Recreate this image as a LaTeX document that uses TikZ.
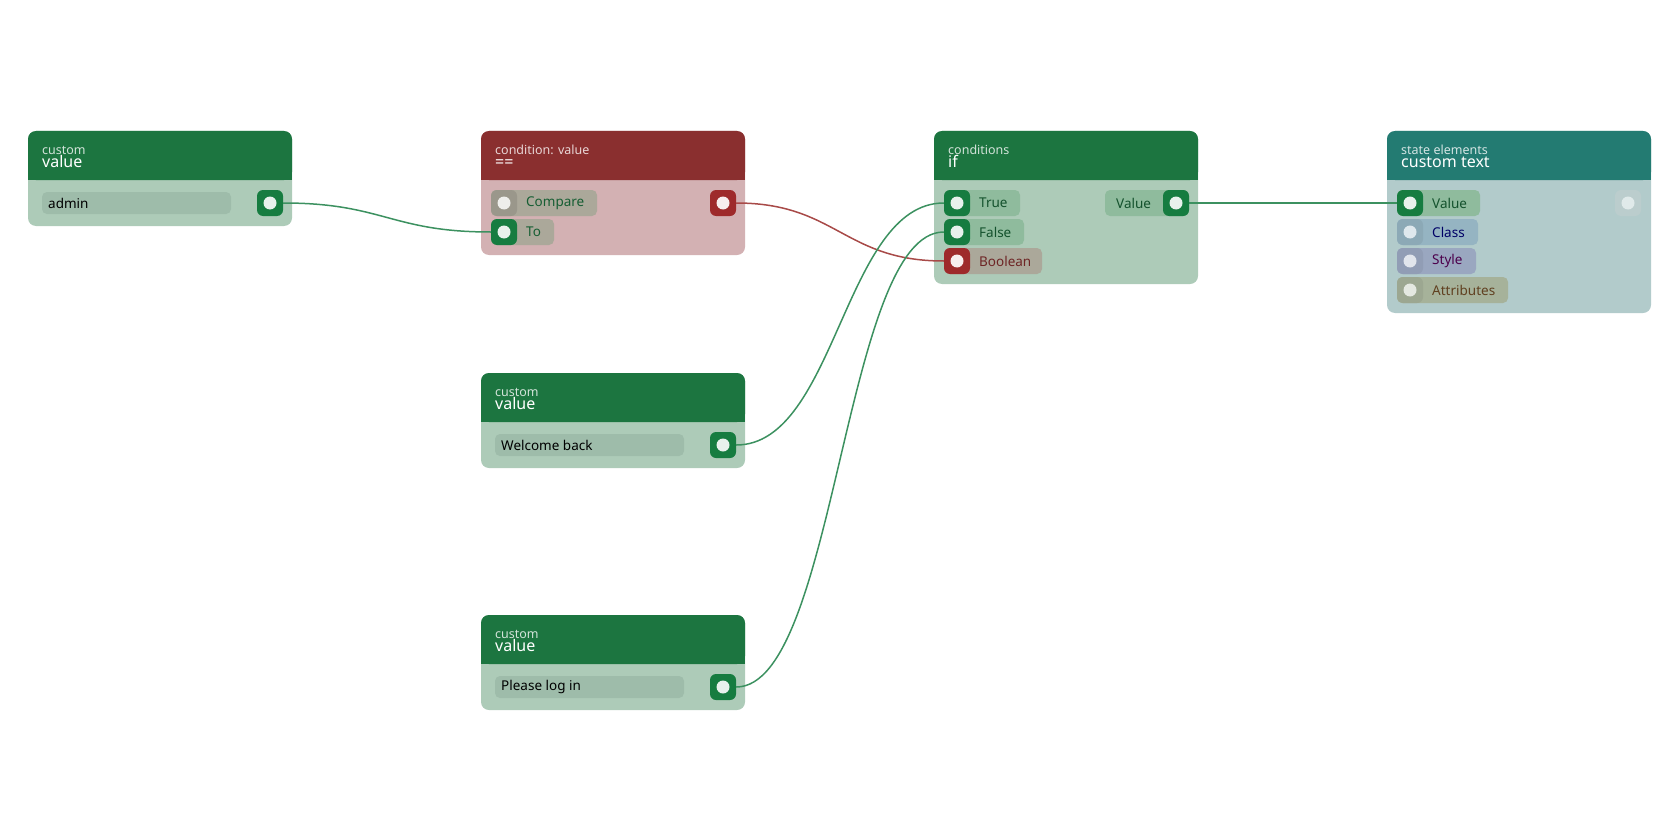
\documentclass[tikz,border=0pt]{standalone}
\usepackage{fontspec}
\setmainfont{Noto Sans}
\begin{document}
\begin{tikzpicture}[x=1pt,y=-1pt,
  hdrs/.style={font=\fontsize{12.5}{13}\selectfont,anchor=base west,inner sep=0pt},
  hdrt/.style={font=\fontsize{16}{17}\selectfont,anchor=base west,inner sep=0pt,text=white},
  lbl/.style={font=\fontsize{13.5}{15}\selectfont,anchor=west,inner sep=0pt},
  port/.style={draw=none,fill=#1,rounded corners=6pt,minimum width=26pt,minimum height=26pt,inner sep=0pt},
  dot/.style={circle,fill=#1,minimum size=13pt,inner sep=0pt},
  wire/.style={line width=1.5pt,draw=#1}]
\useasboundingbox (0,0) rectangle (1680,840);
\definecolor{gh}{HTML}{1C7540}\definecolor{gb}{HTML}{ADCBB8}\definecolor{gp}{HTML}{9EBCAA}
\definecolor{gport}{HTML}{167C40}\definecolor{gdot}{HTML}{E8F1EC}
\definecolor{rh}{HTML}{8A2F2F}\definecolor{rb}{HTML}{D3B1B3}\definecolor{rport}{HTML}{9E2A2B}
\definecolor{grp}{HTML}{ABA89A}\definecolor{gpl}{HTML}{8FBB9D}
\definecolor{th}{HTML}{237B72}\definecolor{tb}{HTML}{B2CBCB}
\definecolor{wg}{HTML}{3C9160}\definecolor{wr}{HTML}{A84A48}
% card macro: x0 y0 y1 headercolor bodycolor sub title
\newcommand\mycard[7]{%
  \fill[#5,rounded corners=8pt] (#1,#2) rectangle ({#1+264},#3);
  \fill[#4,rounded corners=8pt] (#1,#2) rectangle ({#1+264},{#2+49});
  \fill[#4] (#1,{#2+30}) rectangle ({#1+264},{#2+49});
  \node[hdrs,text=white!80!#4] at ({#1+14},{#2+23}) {#6};
  \node[hdrt] at ({#1+14},{#2+36}) {#7};}
% value card: name x0 y0 text
\newcommand\valcard[4]{%
  \mycard{#2}{#3}{#3+95}{gh}{gb}{custom}{value}
  \fill[gp,rounded corners=5pt] ({#2+14},{#3+61}) rectangle ({#2+203},{#3+83});
  \node[lbl] at ({#2+20},{#3+72}) {#4};
  \node[port=gport] (#1) at ({#2+242},{#3+72}) {};
  \node[dot=gdot] at (#1) {};}
\newcommand\inrow[7]{% name x y pillright pillcolor portcolor dotcolor ; label in #7? no
}
% --- node 1
\valcard{v1}{28}{131}{admin}
\valcard{v2}{481}{373}{Welcome back}
\valcard{v3}{481}{615}{Please log in}
% --- node 2
\mycard{481}{131}{255}{rh}{rb}{condition: value}{==}
\fill[grp,rounded corners=5pt] (491,190) rectangle (597,216);
\fill[black!10!grp,rounded corners=6pt] (491,190) rectangle (517,216);
\node[dot=white!80!grp] (cmp) at (504,203) {};
\node[lbl,text=gh!80!black] at (526,203) {Compare};
\fill[grp,rounded corners=5pt] (491,219) rectangle (554,245);
\node[port=gport] (to) at (504,232) {};\node[dot=gdot] at (to) {};
\node[lbl,text=gh!80!black] at (526,232) {To};
\node[port=rport] (eq) at (723,203) {};\node[dot=white!92!rport] at (eq) {};
% --- node if
\mycard{934}{131}{284}{gh}{gb}{conditions}{if}
\fill[gpl,rounded corners=5pt] (944,190) rectangle (1020,216);
\node[port=gport] (tr) at (957,203) {};\node[dot=gdot] at (tr) {};
\node[lbl,text=gh!70!black] at (979,203) {True};
\fill[gpl,rounded corners=5pt] (944,219) rectangle (1024,245);
\node[port=gport] (fa) at (957,232) {};\node[dot=gdot] at (fa) {};
\node[lbl,text=gh!70!black] at (979,232) {False};
\fill[grp,rounded corners=5pt] (944,248) rectangle (1042,274);
\node[port=rport] (bo) at (957,261) {};\node[dot=white!92!rport] at (bo) {};
\node[lbl,text=rh!80!black] at (979,261) {Boolean};
\fill[gpl,rounded corners=5pt] (1105,190) rectangle (1189,216);
\node[port=gport] (iv) at (1176,203) {};\node[dot=gdot] at (iv) {};
\node[lbl,text=gh!70!black] at (1116,203) {Value};
% --- node state
\mycard{1387}{131}{313}{th}{tb}{state elements}{custom text}
\fill[gpl,rounded corners=5pt] (1397,190) rectangle (1480,216);
\node[port=gport] (sv) at (1410,203) {};\node[dot=gdot] at (sv) {};
\node[lbl,text=gh!70!black] at (1432,203) {Value};
\definecolor{cc}{HTML}{95B4C2}\definecolor{sc}{HTML}{9AA7C0}\definecolor{ac}{HTML}{A6B29A}
\fill[cc,rounded corners=5pt] (1397,219) rectangle (1478,245);
\fill[black!6!cc,rounded corners=6pt] (1397,219) rectangle (1423,245);
\node[dot=white!70!cc] (sc1) at (1410,232) {};
\node[lbl,text=blue!40!black] at (1432,232) {Class};
\fill[sc,rounded corners=5pt] (1397,248) rectangle (1476,274);
\fill[black!6!sc,rounded corners=6pt] (1397,248) rectangle (1423,274);
\node[dot=white!70!sc] (ss1) at (1410,261) {};
\node[lbl,text=violet!60!black] at (1432,261) {Style};
\fill[ac,rounded corners=5pt] (1397,277) rectangle (1508,303);
\fill[black!6!ac,rounded corners=6pt] (1397,277) rectangle (1423,303);
\node[dot=white!70!ac] (sa1) at (1410,290) {};
\node[lbl,text=brown!50!black] at (1432,290) {Attributes};
\fill[white!20!tb!90!gray,rounded corners=6pt] (1615,190) rectangle (1641,216);
\node[dot=white!60!tb] (so) at (1628,203) {};
% --- wires
\draw[wire=wg] (v1.east) .. controls +(100,0) and +(-100,0) .. (to.west);
\draw[wire=wr] (eq.east) .. controls +(100,0) and +(-100,0) .. (bo.west);
\draw[wire=wg] (v2.east) .. controls +(100,0) and +(-100,0) .. (tr.west);
\draw[wire=wg] (v3.east) .. controls +(100,0) and +(-100,0) .. (fa.west);
\draw[wire=wg] (iv.east) -- (sv.west);
\end{tikzpicture}
\end{document}
